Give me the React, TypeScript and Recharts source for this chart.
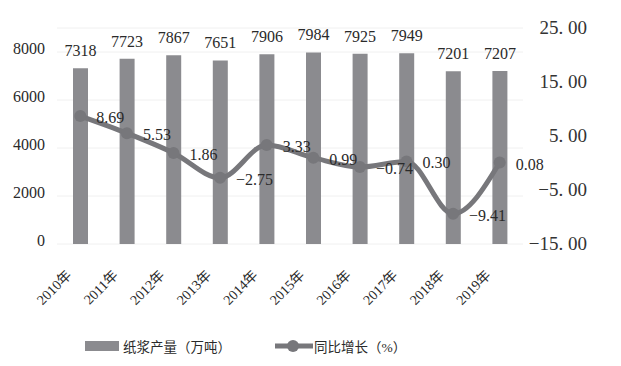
import { Bar, CartesianGrid, ComposedChart, LabelList, Legend, Line, XAxis, YAxis } from "recharts";

const years = ["2010年", "2011年", "2012年", "2013年", "2014年", "2015年", "2016年", "2017年", "2018年", "2019年"];
const pulpOutput = [7318, 7723, 7867, 7651, 7906, 7984, 7925, 7949, 7201, 7207];
const yoyGrowth = [8.69, 5.53, 1.86, -2.75, 3.33, 0.99, -0.74, 0.3, -9.41, 0.08];
const leftTicks = [0, 2000, 4000, 6000, 8000];
const rightTicks = [-15, -5, 5, 15, 25];

const data = years.map((year, i) => ({ year, output: pulpOutput[i], growth: yoyGrowth[i] }));

const serif = "'Liberation Serif', 'Times New Roman', 'Noto Sans CJK SC', serif";
const barColor = "#8b8b8f";
const lineColor = "#77777b";
const textColor = "#2a2a2a";

function YearTick({ x, y, payload }: any) {
  const ax = x - 8;
  const ay = y + 24;
  return (
    <text
      x={ax}
      y={ay}
      transform={`rotate(-45, ${ax}, ${ay})`}
      textAnchor="end"
      fontSize={14}
      style={{ fontFamily: serif }}
      fill={textColor}
    >
      {payload.value}
    </text>
  );
}

function LeftTick({ x, y, payload }: any) {
  return (
    <text x={x - 4} y={y} dy={2} textAnchor="end" fontSize={16} style={{ fontFamily: serif }} fill={textColor}>
      {payload.value}
    </text>
  );
}

function RightTick({ x, y, payload }: any) {
  const label = payload.value.toFixed(2).replace(".", ". ").replace("-", "\u2212");
  return (
    <text x={x + 56} y={y} dy={6} textAnchor="end" fontSize={19} style={{ fontFamily: serif }} fill="#333">
      {label}
    </text>
  );
}

function GrowthLabel({ x, y, value }: any) {
  const text = value.toFixed(2).replace("-", "\u2212");
  return (
    <text x={x + 16} y={y} dy={7} textAnchor="start" fontSize={16} style={{ fontFamily: serif }} fill={textColor}>
      {text}
    </text>
  );
}

function ChartLegend() {
  return (
    <div style={{ height: 38, position: "relative", fontFamily: serif, fontSize: 13.5, color: textColor }}>
      <div style={{ position: "absolute", left: 85, top: 8, display: "flex", alignItems: "center" }}>
        <span style={{ display: "inline-block", width: 34, height: 10, background: barColor, marginRight: 4 }} />
        <span>纸浆产量（万吨）</span>
      </div>
      <div style={{ position: "absolute", left: 275, top: 8, display: "flex", alignItems: "center" }}>
        <svg width={38} height={14} style={{ marginRight: 1 }}>
          <line x1={0} y1={7} x2={38} y2={7} stroke={lineColor} strokeWidth={5} />
          <circle cx={18} cy={7} r={6} fill={lineColor} />
        </svg>
        <span>同比增长（%）</span>
      </div>
    </div>
  );
}

export default function App() {
  return (
    <div style={{ position: "absolute", left: 0, top: 0, background: "#fff" }}>
      <ComposedChart width={621} height={366} data={data} margin={{ top: 28, right: 0, bottom: 0, left: 0 }}>
        <CartesianGrid vertical={false} stroke="#f0f0f0" yAxisId="left" />
        <XAxis dataKey="year" axisLine={false} tickLine={false} height={84} interval={0} tick={<YearTick />} />
        <YAxis
          yAxisId="left"
          domain={[0, 9000]}
          ticks={leftTicks}
          width={57}
          axisLine={false}
          tickLine={false}
          tick={<LeftTick />}
        />
        <YAxis
          yAxisId="right"
          orientation="right"
          domain={[-15, 25]}
          ticks={rightTicks}
          width={98}
          axisLine={false}
          tickLine={false}
          tick={<RightTick />}
        />
        <Bar yAxisId="left" dataKey="output" fill={barColor} barSize={15} isAnimationActive={false}>
          <LabelList
            dataKey="output"
            position="top"
            offset={12}
            fontSize={16}
            style={{ fontFamily: serif }}
            fill={textColor}
          />
        </Bar>
        <Line
          yAxisId="right"
          type="monotone"
          dataKey="growth"
          stroke={lineColor}
          strokeWidth={5}
          dot={{ r: 6, fill: lineColor, stroke: lineColor, strokeWidth: 0 }}
          isAnimationActive={false}
        >
          <LabelList dataKey="growth" content={<GrowthLabel />} />
        </Line>
        <Legend verticalAlign="bottom" content={() => <ChartLegend />} />
      </ComposedChart>
    </div>
  );
}
